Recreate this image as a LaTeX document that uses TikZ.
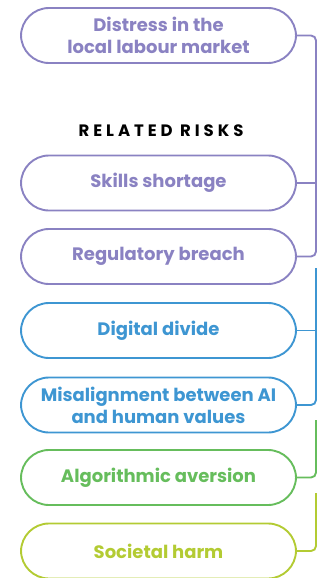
\documentclass[tikz,border=0pt]{standalone}
\usepackage{fontspec}
\setmainfont{Poppins}
\usetikzlibrary{calc}
\definecolor{cpurple}{HTML}{8A82C2}
\definecolor{cblue}{HTML}{3E96D2}
\definecolor{cgreen}{HTML}{66BD5C}
\definecolor{clime}{HTML}{B3CB33}
\tikzset{
  pill/.style={draw, line width=1.9pt, rounded corners=28pt, minimum width=275pt,
    minimum height=55pt, align=center, inner sep=0pt,
    font=\fontsize{18}{22}\selectfont\bfseries, text=#1, draw=#1},
  link/.style={line width=1.9pt, draw=#1, rounded corners=5pt},
  heading/.style={font=\fontsize{16.5}{18}\selectfont\bfseries\addfontfeatures{LetterSpace=24}, text=black}
}
\begin{document}
\begin{tikzpicture}[x=1pt,y=-1pt]
\useasboundingbox (0,0) rectangle (320,578);
\node[pill=cpurple] (p1) at (158.5,35.5) {Distress in the\\local labour market};
\node[heading] (h) at (161,131) {RELATED RISKS};
\node[pill=cpurple] (p2) at (158.5,183) {Skills shortage};
\node[pill=cpurple] (p3) at (158.5,256.5) {Regulatory breach};
\node[pill=cblue] (p4) at (158.5,330.5) {Digital divide};
\node[pill=cblue] (p5) at (158.5,405) {Misalignment between AI\\and human values};
\node[pill=cgreen] (p6) at (158.5,477.5) {Algorithmic aversion};
\node[pill=clime] (p7) at (158.5,551) {Societal harm};
\coordinate (bus) at (316,0);
\coordinate (btop) at (316,268);
\coordinate (gtop) at (316,420);
\coordinate (ltop) at (316,493);
\draw[link=cpurple] (p1.east) -- (p1.east -| bus) -- (p3.east -| bus) -- (p3.east);
\draw[link=cpurple] (p2.east) -- (p2.east -| bus);
\draw[link=cblue] (btop) -- (p5.east -| bus) -- (p5.east);
\draw[link=cblue] (p4.east) -- (p4.east -| bus);
\draw[link=cgreen] (gtop) -- (p6.east -| bus) -- (p6.east);
\draw[link=clime] (ltop) -- (p7.east -| bus) -- (p7.east);
\end{tikzpicture}
\end{document}
